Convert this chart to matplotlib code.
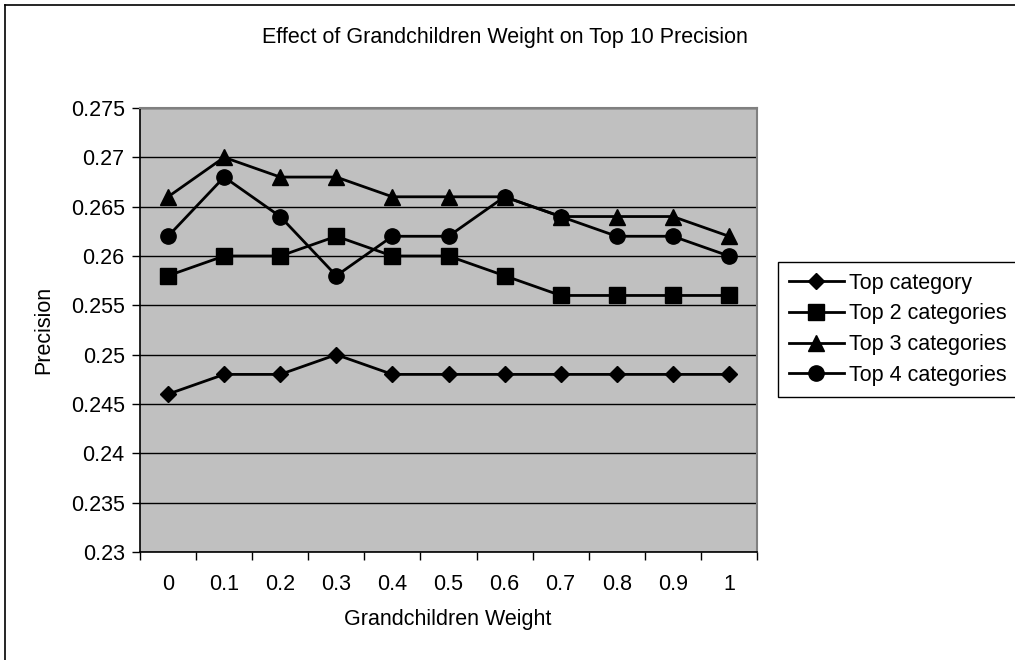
import matplotlib
matplotlib.use("Agg")
import matplotlib.pyplot as plt
from matplotlib.lines import Line2D

plt.rcParams['font.family'] = ['Liberation Sans', 'DejaVu Sans']

weights = ["0", "0.1", "0.2", "0.3", "0.4", "0.5", "0.6", "0.7", "0.8", "0.9", "1"]
top1 = [0.246, 0.248, 0.248, 0.250, 0.248, 0.248, 0.248, 0.248, 0.248, 0.248, 0.248]
top2 = [0.258, 0.260, 0.260, 0.262, 0.260, 0.260, 0.258, 0.256, 0.256, 0.256, 0.256]
top3 = [0.266, 0.270, 0.268, 0.268, 0.266, 0.266, 0.266, 0.264, 0.264, 0.264, 0.262]
top4 = [0.262, 0.268, 0.264, 0.258, 0.262, 0.262, 0.266, 0.264, 0.262, 0.262, 0.260]
labels = ["Top category", "Top 2 categories", "Top 3 categories", "Top 4 categories"]
yticks = [0.23, 0.235, 0.24, 0.245, 0.25, 0.255, 0.26, 0.265, 0.27, 0.275]
ytick_labels = ["0.23", "0.235", "0.24", "0.245", "0.25", "0.255", "0.26", "0.265", "0.27", "0.275"]

W, H = 1015, 660
fig = plt.figure(figsize=(W / 100, H / 100), dpi=100)
fs = 15.5

ax = fig.add_axes([140 / W, (H - 552) / H, 617 / W, 444 / H])
ax.set_facecolor('#C0C0C0')
x = list(range(len(weights)))
series = [top1, top2, top3, top4]
markers = ['D', 's', '^', 'o']
msizes = [8, 11, 11, 11]
for vals, m, ms, lab in zip(series, markers, msizes, labels):
    ax.plot(x, vals, color='black', lw=2, marker=m, ms=ms, mfc='black', mec='black', label=lab, zorder=3)

ax.set_xlim(-0.5, len(weights) - 0.5)
ax.set_ylim(0.23, 0.275)
ax.set_yticks(yticks)
ax.set_yticklabels(ytick_labels, fontsize=fs)
ax.set_xticks(x)
ax.set_xticklabels(weights, fontsize=fs)
ax.set_xticks([i - 0.5 for i in range(len(weights) + 1)], minor=True)
ax.tick_params(axis='x', which='major', length=0, pad=16)
ax.tick_params(axis='x', which='minor', length=6, width=1, direction='out')
ax.tick_params(axis='y', length=6, width=1, direction='out', pad=5)
ax.yaxis.grid(True, color='black', lw=1, zorder=1)
ax.set_axisbelow(True)
for s in ['top', 'right']:
    ax.spines[s].set_color('#808080')
    ax.spines[s].set_linewidth(1.5)
for s in ['left', 'bottom']:
    ax.spines[s].set_color('black')
    ax.spines[s].set_linewidth(1.2)

fig.text(505 / W, 1 - 38 / H, "Effect of Grandchildren Weight on Top 10 Precision", ha='center', va='center', fontsize=fs)
fig.text(448 / W, 1 - 620 / H, "Grandchildren Weight", ha='center', va='center', fontsize=fs)
fig.text(44 / W, 1 - 330 / H, "Precision", ha='center', va='center', rotation=90, fontsize=fs)

leg = fig.legend(loc='upper left', bbox_to_anchor=(778 / W, 1 - 262 / H), fontsize=fs,
                 frameon=True, fancybox=False, edgecolor='black', framealpha=1,
                 handlelength=2.55, handletextpad=0.23, borderpad=0.5, labelspacing=0.45,
                 borderaxespad=0)
leg.get_frame().set_linewidth(1)

fig.add_artist(Line2D([5 / W, 1], [1 - 5 / H, 1 - 5 / H], color='black', lw=1.2, transform=fig.transFigure))
fig.add_artist(Line2D([5 / W, 5 / W], [0, 1 - 5 / H], color='black', lw=1.2, transform=fig.transFigure))

fig.savefig("out.png", dpi=100)
